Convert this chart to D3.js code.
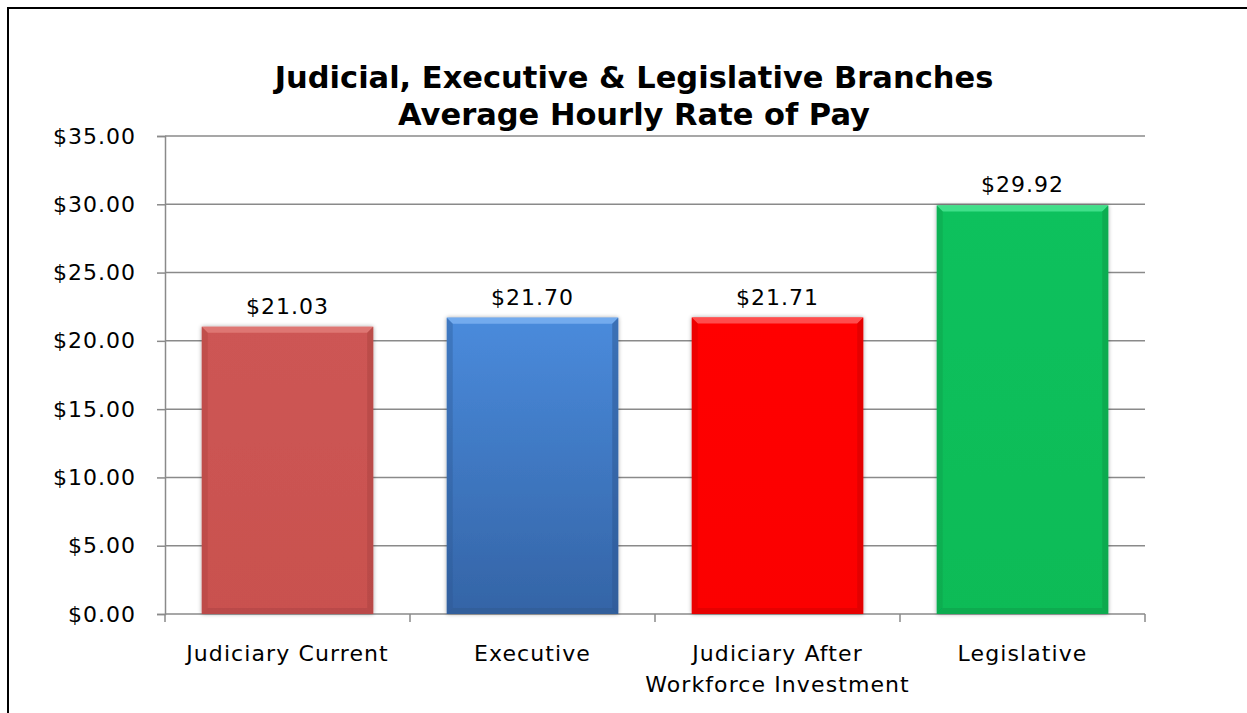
<!DOCTYPE html>
<html>
<head>
<meta charset="utf-8">
<script src="https://cdn.jsdelivr.net/npm/d3@7"></script>
<style>
  body { margin: 0; background: white; }
  text { font-family: "DejaVu Sans", sans-serif; fill: #000; }
</style>
</head>
<body>
<svg id="chart"></svg>
<script>
// Chart data
const categories = ["Judiciary Current", "Executive", "Judiciary After\nWorkforce Investment", "Legislative"];
const values = [21.03, 21.70, 21.71, 29.92];
const yTicks = [0, 5, 10, 15, 20, 25, 30, 35];
const titleLines = ["Judicial, Executive & Legislative Branches", "Average Hourly Rate of Pay"];

// colours per bar: top / bottom of face, bevel highlight, bevel shade
const barColours = [
  { top: "#cd5654", bottom: "#c9514f", light: "#e07a77", dark: "#a94340" },
  { top: "#4a8bdc", bottom: "#3464a6", light: "#78aef0", dark: "#2c568f" },
  { top: "#ff0000", bottom: "#fb0000", light: "#ff5656", dark: "#cc0000" },
  { top: "#0bc15d", bottom: "#09bb57", light: "#45e28e", dark: "#079846" }
];

const width = 1247, height = 713;
const margin = { top: 136, right: 102, bottom: 99, left: 165 };

const svg = d3.select("#chart")
    .attr("width", width)
    .attr("height", height);

// outer chart border (runs off the picture on the right and bottom)
svg.append("rect")
    .attr("x", 8)
    .attr("y", 8)
    .attr("width", width + 20)
    .attr("height", height + 20)
    .attr("fill", "white")
    .attr("stroke", "#000")
    .attr("stroke-width", 2);

const x = d3.scaleBand()
    .domain(categories)
    .range([margin.left, width - margin.right])
    .paddingInner(0.3)
    .paddingOuter(0.15);

const y = d3.scaleLinear()
    .domain([0, 35])
    .range([height - margin.bottom, margin.top]);

const defs = svg.append("defs");

// soft shadow round the bars
const shadow = defs.append("filter")
    .attr("id", "shadow")
    .attr("x", "-10%").attr("y", "-10%")
    .attr("width", "120%").attr("height", "120%");
shadow.append("feGaussianBlur")
    .attr("in", "SourceAlpha")
    .attr("stdDeviation", 2);
shadow.append("feComponentTransfer")
  .append("feFuncA")
    .attr("type", "linear")
    .attr("slope", 0.35);
const merge = shadow.append("feMerge");
merge.append("feMergeNode");
merge.append("feMergeNode").attr("in", "SourceGraphic");

barColours.forEach((c, i) => {
  const g = defs.append("linearGradient")
      .attr("id", "grad" + i)
      .attr("x1", 0).attr("y1", 0)
      .attr("x2", 0).attr("y2", 1);
  g.append("stop").attr("offset", "0%").attr("stop-color", c.top);
  g.append("stop").attr("offset", "100%").attr("stop-color", c.bottom);
});

// gridlines
svg.append("g")
    .selectAll("line")
    .data(yTicks.filter(d => d > 0))
  .join("line")
    .attr("x1", margin.left)
    .attr("x2", width - margin.right)
    .attr("y1", d => y(d))
    .attr("y2", d => y(d))
    .attr("stroke", "#8a8a8a")
    .attr("stroke-width", 1.5);

// y axis
const yAxis = svg.append("g")
    .attr("transform", `translate(${margin.left},0)`)
    .call(d3.axisLeft(y)
      .tickValues(yTicks)
      .tickSize(8)
      .tickPadding(21)
      .tickFormat(d => "$" + d3.format(".2f")(d)));
yAxis.select(".domain").attr("stroke", "#8a8a8a").attr("stroke-width", 1.5);
yAxis.selectAll(".tick line").attr("stroke", "#8a8a8a").attr("stroke-width", 1.5);
yAxis.selectAll(".tick text")
    .attr("font-family", "DejaVu Sans")
    .attr("font-size", 22)
    .attr("letter-spacing", 1)
    .attr("fill", "#000");

// x axis line and boundary ticks
const bottom = y(0);
const step = x.step();
svg.append("line")
    .attr("x1", margin.left)
    .attr("x2", width - margin.right)
    .attr("y1", bottom)
    .attr("y2", bottom)
    .attr("stroke", "#8a8a8a")
    .attr("stroke-width", 1.5);
const boundaries = [x.range()[0]].concat(categories.map(c => x(c) + x.bandwidth() + step * x.paddingInner() / 2));
boundaries[boundaries.length - 1] = x.range()[1];
svg.append("g")
    .selectAll("line")
    .data(boundaries)
  .join("line")
    .attr("x1", d => d)
    .attr("x2", d => d)
    .attr("y1", bottom)
    .attr("y2", bottom + 8)
    .attr("stroke", "#8a8a8a")
    .attr("stroke-width", 1.5);

// bars with bevel
const bev = 6;
const bars = svg.append("g")
    .selectAll("g.bar")
    .data(values)
  .join("g")
    .attr("class", "bar")
    .attr("filter", "url(#shadow)");

bars.append("rect")
    .attr("x", (d, i) => x(categories[i]))
    .attr("y", d => y(d))
    .attr("width", x.bandwidth())
    .attr("height", d => bottom - y(d))
    .attr("fill", (d, i) => `url(#grad${i})`);

// top bevel highlight
bars.append("path")
    .attr("fill", (d, i) => barColours[i].light)
    .attr("opacity", 0.9)
    .attr("d", (d, i) => {
      const x0 = x(categories[i]), x1 = x0 + x.bandwidth(), t = y(d);
      return `M${x0},${t}L${x1},${t}L${x1 - bev},${t + bev}L${x0 + bev},${t + bev}Z`;
    });

// side bevels
bars.append("path")
    .attr("fill", (d, i) => barColours[i].dark)
    .attr("opacity", 0.35)
    .attr("d", (d, i) => {
      const x0 = x(categories[i]), t = y(d);
      return `M${x0},${t}L${x0 + bev},${t + bev}L${x0 + bev},${bottom - bev}L${x0},${bottom}Z`;
    });
bars.append("path")
    .attr("fill", (d, i) => barColours[i].dark)
    .attr("opacity", 0.5)
    .attr("d", (d, i) => {
      const x1 = x(categories[i]) + x.bandwidth(), t = y(d);
      return `M${x1},${t}L${x1 - bev},${t + bev}L${x1 - bev},${bottom - bev}L${x1},${bottom}Z`;
    });
bars.append("path")
    .attr("fill", (d, i) => barColours[i].dark)
    .attr("opacity", 0.45)
    .attr("d", (d, i) => {
      const x0 = x(categories[i]), x1 = x0 + x.bandwidth();
      return `M${x0},${bottom}L${x0 + bev},${bottom - bev}L${x1 - bev},${bottom - bev}L${x1},${bottom}Z`;
    });

// value labels
svg.append("g")
    .selectAll("text")
    .data(values)
  .join("text")
    .attr("x", (d, i) => x(categories[i]) + x.bandwidth() / 2)
    .attr("y", d => y(d) - 13)
    .attr("text-anchor", "middle")
    .attr("font-size", 22)
    .attr("letter-spacing", 1)
    .text(d => "$" + d3.format(".2f")(d));

// category labels
svg.append("g")
    .selectAll("text")
    .data(categories)
  .join("text")
    .attr("x", d => x(d) + x.bandwidth() / 2)
    .attr("y", bottom + 47)
    .attr("text-anchor", "middle")
    .attr("font-size", 22)
    .attr("letter-spacing", 1.1)
    .each(function(d) {
      const t = d3.select(this);
      d.split("\n").forEach((line, j) => {
        t.append("tspan")
            .attr("x", x(d) + x.bandwidth() / 2)
            .attr("dy", j === 0 ? 0 : 31)
            .text(line);
      });
    });

// title
svg.append("g")
    .selectAll("text")
    .data(titleLines)
  .join("text")
    .attr("x", 634)
    .attr("y", (d, i) => 88 + i * 37)
    .attr("text-anchor", "middle")
    .attr("font-size", 30.5)
    .attr("font-weight", "bold")
    .text(d => d);
</script>
</body>
</html>
